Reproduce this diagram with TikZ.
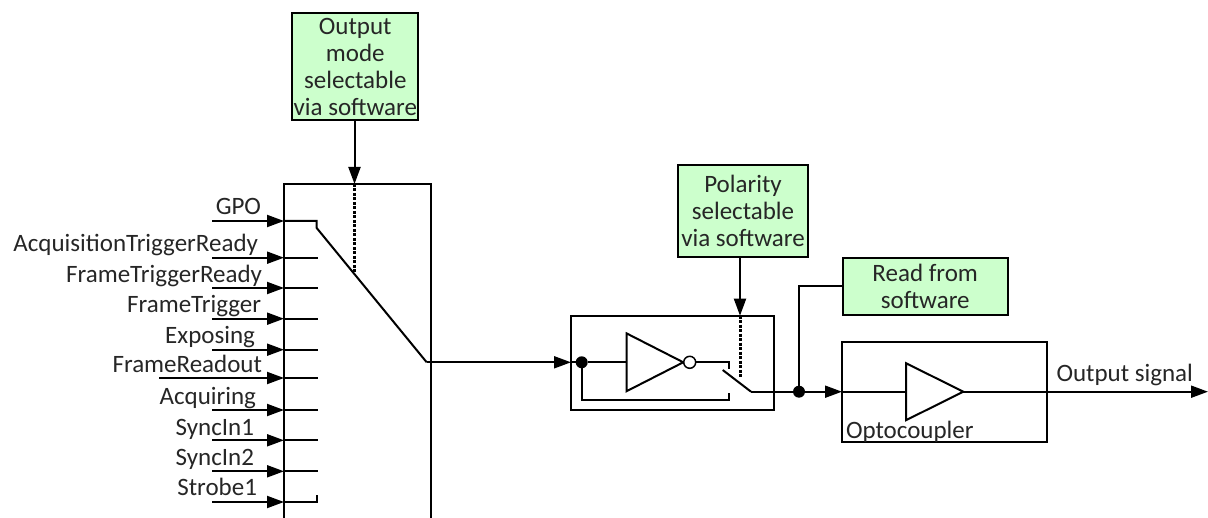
\documentclass[tikz,border=0pt]{standalone}
\usepackage{fontspec}
\setmainfont{Carlito}
\usetikzlibrary{arrows.meta,shapes.geometric}
\begin{document}
\begin{tikzpicture}[x=1pt,y=-1pt,line width=2pt,font=\fontsize{25}{27}\selectfont,
		sig/.style={-{Triangle[length=17pt,width=12pt]}},
		softbox/.style={draw,fill=green!20,text=black!85,align=center,inner sep=0pt,outer sep=0pt},
		plainbox/.style={draw,inner sep=0pt,outer sep=0pt},
		junction/.style={circle,fill=black,minimum size=12pt,inner sep=0pt,outer sep=0pt},
		bubble/.style={circle,draw,fill=white,line width=1.5pt,minimum size=12pt,inner sep=0pt,outer sep=0pt},
		gate/.style={isosceles triangle,isosceles triangle stretches,draw,inner sep=0pt,outer sep=0pt,anchor=apex},
		ctrl/.style={dash pattern=on 3pt off 1.5pt,line width=3pt},
		lbl/.style={anchor=base east,inner sep=0pt,text=black!85}]
	\clip (0,0) rectangle (1208,518);
	
	% selector block, runs off the bottom edge
	\node (selblock) at (357.5,364) [plainbox,minimum width=147pt,minimum height=360pt] {};
	
	% green boxes
	\node (modebox) at (355.3,66.5) [softbox,minimum width=126pt,minimum height=107pt] {Output\\mode\\selectable\\via software};
	\node (polbox) at (743,211) [softbox,minimum width=130pt,minimum height=92pt] {Polarity\\selectable\\via software};
	\node (readbox) at (925.2,286.8) [softbox,minimum width=165pt,minimum height=57pt] {Read from\\software};
	
	% output mode selection
	\coordinate (modein) at (354.5,184);
	\coordinate (modeend) at (354.5,274);
	\draw[sig] (modebox.south -| modein) -- (modein);
	\draw[ctrl] (modein) -- (modeend);
	
	% inputs
	\coordinate (gpoin) at (212,221);
	\coordinate (gpoat) at (284,221);
	\coordinate (gpoend) at (316.7,221);
	\coordinate (gpotick) at (316.7,228);
	\coordinate (selout) at (426.7,362.3);
	\draw[sig] (gpoin) -- (gpoat);
	\draw (gpoat) -- (gpoend) -- (gpotick) -- (selout);
	\node (gpo) at (262,215) [lbl] {GPO};
	
	\coordinate (acqin) at (212,257.7);
	\coordinate (acqat) at (284,257.7);
	\coordinate (acqend) at (318,257.7);
	\draw[sig] (acqin) -- (acqat);
	\draw (acqat) -- (acqend);
	\node (acqready) at (259,252) [lbl] {AcquisitionTriggerReady};
	
	\coordinate (ftrin) at (212,288);
	\coordinate (ftrat) at (284,288);
	\coordinate (ftrend) at (318,288);
	\draw[sig] (ftrin) -- (ftrat);
	\draw (ftrat) -- (ftrend);
	\node (frameready) at (263,283) [lbl] {FrameTriggerReady};
	
	\coordinate (ftin) at (212,318.7);
	\coordinate (ftat) at (284,318.7);
	\coordinate (ftend) at (318,318.7);
	\draw[sig] (ftin) -- (ftat);
	\draw (ftat) -- (ftend);
	\node (frametrig) at (262,313) [lbl] {FrameTrigger};
	
	\coordinate (expin) at (212,349.7);
	\coordinate (expat) at (284,349.7);
	\coordinate (expend) at (318,349.7);
	\draw[sig] (expin) -- (expat);
	\draw (expat) -- (expend);
	\node (exposing) at (256,344) [lbl] {Exposing};
	
	\coordinate (froin) at (159,378);
	\coordinate (froat) at (284,378);
	\coordinate (froend) at (318,378);
	\draw[sig] (froin) -- (froat);
	\draw (froat) -- (froend);
	\node (framero) at (263,373) [lbl] {FrameReadout};
	
	\coordinate (acgin) at (212,410);
	\coordinate (acgat) at (284,410);
	\coordinate (acgend) at (318,410);
	\draw[sig] (acgin) -- (acgat);
	\draw (acgat) -- (acgend);
	\node (acquiring) at (257,405) [lbl] {Acquiring};
	
	\coordinate (syain) at (212,440.3);
	\coordinate (syaat) at (284,440.3);
	\coordinate (syaend) at (318,440.3);
	\draw[sig] (syain) -- (syaat);
	\draw (syaat) -- (syaend);
	\node (syncone) at (255,436) [lbl] {SyncIn1};
	
	\coordinate (sybin) at (212,471.3);
	\coordinate (sybat) at (284,471.3);
	\coordinate (sybend) at (318,471.3);
	\draw[sig] (sybin) -- (sybat);
	\draw (sybat) -- (sybend);
	\node (synctwo) at (255,466) [lbl] {SyncIn2};
	
	\coordinate (strin) at (212,502);
	\coordinate (strat) at (284,502);
	\coordinate (strend) at (316.7,502);
	\coordinate (strtick) at (316.7,495);
	\draw[sig] (strin) -- (strat);
	\draw (strat) -- (strend) -- (strtick);
	\node (strobe) at (258,495) [lbl] {Strobe1};
	
	% polarity stage
	\node (polstage) at (672.6,363) [plainbox,minimum width=203.5pt,minimum height=94.5pt] {};
	\node (splitdot) at (581.7,362.3) [junction] {};
	\node (inv) at (683.3,362.3) [gate,minimum width=57.7pt,minimum height=56.6pt] {};
	\node (invdot) at (689.7,362.3) [bubble] {};
	\coordinate (polin) at (571,362.3);
	\draw[sig] (selout) -- (polin);
	\draw (polin) -- (splitdot);
	\draw (splitdot) -- (inv.west);
	
	% switch contacts and blade
	\coordinate (upcorner) at (729.3,362.3);
	\coordinate (uptick) at (729.3,369.3);
	\coordinate (lowcorner) at (581.7,400);
	\coordinate (lowend) at (729.3,400);
	\coordinate (lowtick) at (729.3,393);
	\coordinate (bladetop) at (722.7,370);
	\coordinate (bladeend) at (751,391.7);
	\draw (invdot) -- (upcorner) -- (uptick);
	\draw (splitdot) -- (lowcorner) -- (lowend) -- (lowtick);
	\draw (bladetop) -- (bladeend);
	
	% polarity selection
	\coordinate (polctl) at (740,315.7);
	\coordinate (polctlend) at (740,377);
	\draw[sig] (polbox.south -| polctl) -- (polctl);
	\draw[ctrl] (polctl) -- (polctlend);
	
	% read back and optocoupler
	\node (readdot) at (799,391.7) [junction] {};
	\node (optobox) at (944.7,391.8) [plainbox,minimum width=205pt,minimum height=100.4pt] {};
	\node (opto) at (963.3,391.7) [gate,minimum width=57pt,minimum height=57.3pt] {};
	\coordinate (optoin) at (842,391.7);
	\coordinate (readcorner) at (799,286);
	\coordinate (outend) at (1208,391.7);
	\draw (bladeend) -- (readdot);
	\draw (readbox.west |- readcorner) -- (readcorner) -- (readdot);
	\draw[sig] (readdot) -- (optoin);
	\draw (optoin) -- (opto.west);
	\draw[sig] (opto.apex) -- (outend);
	\node (optolabel) at (845,439) [anchor=base west,inner sep=0pt,text=black!85] {Optocoupler};
	\node (outlabel) at (1194,382) [lbl] {Output signal};
\end{tikzpicture}
\end{document}
